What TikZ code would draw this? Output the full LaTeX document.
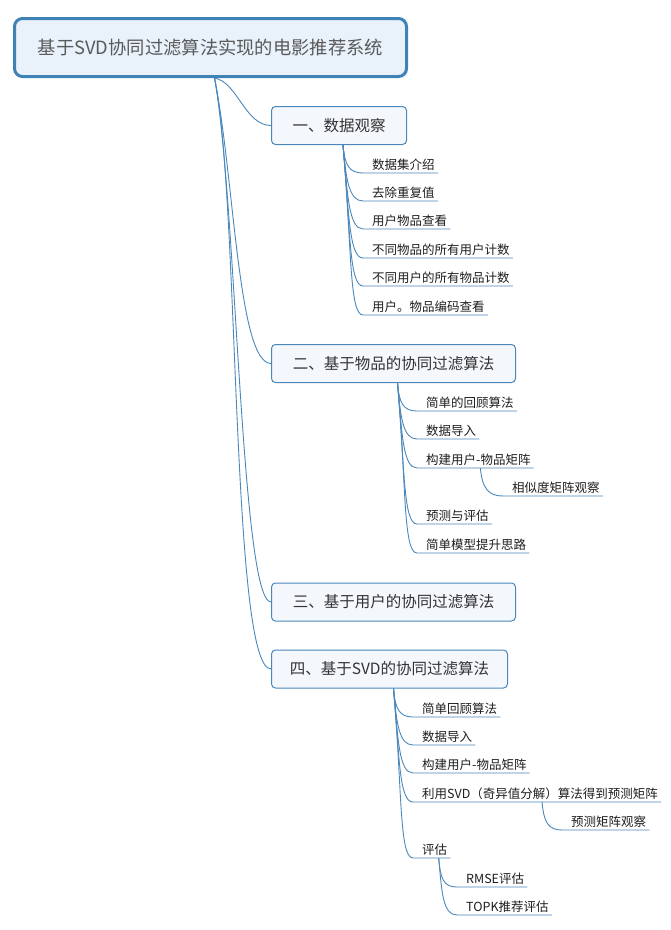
\documentclass[tikz,border=0pt]{standalone}
\usepackage{fontspec}
\setmainfont{Noto Sans CJK SC}
\usetikzlibrary{positioning}
\definecolor{mmLine}{HTML}{4A87BA}
\definecolor{mmRootDraw}{HTML}{3E82B6}
\definecolor{mmRootFill}{HTML}{E9F1FB}
\definecolor{mmRootText}{HTML}{5A5A5A}
\definecolor{mmTopicFill}{HTML}{F4F8FD}
\definecolor{mmTopicText}{HTML}{333333}
\definecolor{mmLeafText}{HTML}{1E1E1E}
\tikzset{
    mmRoot/.style={
        rectangle,
        draw=mmRootDraw,
        line width=3pt,
        rounded corners=8pt,
        fill=mmRootFill,
        minimum width=392pt,
        minimum height=58pt,
        text=mmRootText,
        font=\fontsize{18.3}{22}\selectfont
    },
    mmTopic/.style={
        rectangle,
        draw=mmLine,
        line width=1pt,
        rounded corners=4pt,
        fill=mmTopicFill,
        minimum height=38pt,
        inner xsep=21pt,
        anchor=west,
        text=mmTopicText,
        font=\fontsize{15.5}{19}\selectfont
    },
    mmLeaf/.style={
        anchor=south west,
        inner xsep=0pt,
        inner ysep=2.5pt,
        text=mmLeafText,
        font=\fontsize{12.5}{15}\selectfont
    },
    % Connectors
    mmEdge/.style={draw=mmLine, line width=0.9pt},
    mmTwig/.style={out=-85, in=180, out looseness=1.5, in distance=14pt}
}

\begin{document}
\begin{tikzpicture}[x=1pt, y=-1pt]
\useasboundingbox (0,0) rectangle (671,930);

\node[mmRoot] (root) at (210.5,47.5) {基于SVD协同过滤算法实现的电影推荐系统};

\node[mmTopic, minimum width=135pt] (obs) at (271,125.5) {一、数据观察};
\node[mmTopic, minimum width=244pt] (item) at (271,363.5) {二、基于物品的协同过滤算法};
\node[mmTopic, minimum width=244pt] (user) at (271,602) {三、基于用户的协同过滤算法};
\node[mmTopic, minimum width=236pt, inner xsep=17pt] (svd) at (271,669) {四、基于SVD的协同过滤算法};

% root to topics
\draw[mmEdge] ([xshift=4pt]root.south) .. controls +(23,4) and +(-26,0) .. (obs.west);
\draw[mmEdge] ([xshift=4pt]root.south) .. controls +(20,100) and +(-33,0) .. (item.west);
\draw[mmEdge] ([xshift=4pt]root.south) .. controls +(22,120) and +(-30,0) .. (user.west);
\draw[mmEdge] ([xshift=4pt]root.south) .. controls +(25,120) and +(-40,0) .. (svd.west);

% 一
\node[mmLeaf] (o1) at (372,173) {数据集介绍};
\node[mmLeaf] (o2) at (372,201) {去除重复值};
\node[mmLeaf] (o3) at (372,229) {用户物品查看};
\node[mmLeaf] (o4) at (372,258) {不同物品的所有用户计数};
\node[mmLeaf] (o5) at (372,286) {不同用户的所有物品计数};
\node[mmLeaf] (o6) at (372,315) {用户。物品编码查看};
\draw[mmEdge] ([xshift=4pt]obs.south) to[mmTwig] ([xshift=-9pt]o1.south west) -- ([xshift=3pt]o1.south east);
\draw[mmEdge] ([xshift=4pt]obs.south) to[mmTwig] ([xshift=-9pt]o2.south west) -- ([xshift=3pt]o2.south east);
\draw[mmEdge] ([xshift=4pt]obs.south) to[mmTwig] ([xshift=-9pt]o3.south west) -- ([xshift=3pt]o3.south east);
\draw[mmEdge] ([xshift=4pt]obs.south) to[mmTwig] ([xshift=-9pt]o4.south west) -- ([xshift=3pt]o4.south east);
\draw[mmEdge] ([xshift=4pt]obs.south) to[mmTwig] ([xshift=-9pt]o5.south west) -- ([xshift=3pt]o5.south east);
\draw[mmEdge] ([xshift=4pt]obs.south) to[mmTwig] ([xshift=-9pt]o6.south west) -- ([xshift=3pt]o6.south east);

% 二
\node[mmLeaf] (i1) at (426,411) {简单的回顾算法};
\node[mmLeaf] (i2) at (426,439) {数据导入};
\node[mmLeaf] (i3) at (426,468) {构建用户-物品矩阵};
\node[mmLeaf] (i3a) at (512,496) {相似度矩阵观察};
\node[mmLeaf] (i4) at (426,524) {预测与评估};
\node[mmLeaf] (i5) at (426,553) {简单模型提升思路};
\draw[mmEdge] ([xshift=4pt]item.south) to[mmTwig] ([xshift=-9pt]i1.south west) -- ([xshift=3pt]i1.south east);
\draw[mmEdge] ([xshift=4pt]item.south) to[mmTwig] ([xshift=-9pt]i2.south west) -- ([xshift=3pt]i2.south east);
\draw[mmEdge] ([xshift=4pt]item.south) to[mmTwig] ([xshift=-9pt]i3.south west) -- ([xshift=3pt]i3.south east);
\draw[mmEdge] ([xshift=2pt]i3.south) to[mmTwig] ([xshift=-9pt]i3a.south west) -- ([xshift=3pt]i3a.south east);
\draw[mmEdge] ([xshift=4pt]item.south) to[mmTwig] ([xshift=-9pt]i4.south west) -- ([xshift=3pt]i4.south east);
\draw[mmEdge] ([xshift=4pt]item.south) to[mmTwig] ([xshift=-9pt]i5.south west) -- ([xshift=3pt]i5.south east);

% 四
\node[mmLeaf] (s1) at (422,717) {简单回顾算法};
\node[mmLeaf] (s2) at (422,745) {数据导入};
\node[mmLeaf] (s3) at (422,773) {构建用户-物品矩阵};
\node[mmLeaf] (s4) at (422,802) {利用SVD（奇异值分解）算法得到预测矩阵};
\node[mmLeaf] (s4a) at (571,830) {预测矩阵观察};
\node[mmLeaf] (s5) at (422,858) {评估};
\node[mmLeaf] (s5a) at (466,887) {RMSE评估};
\node[mmLeaf] (s5b) at (466,915) {TOPK推荐评估};
\draw[mmEdge] ([xshift=4pt]svd.south) to[mmTwig] ([xshift=-9pt]s1.south west) -- ([xshift=3pt]s1.south east);
\draw[mmEdge] ([xshift=4pt]svd.south) to[mmTwig] ([xshift=-9pt]s2.south west) -- ([xshift=3pt]s2.south east);
\draw[mmEdge] ([xshift=4pt]svd.south) to[mmTwig] ([xshift=-9pt]s3.south west) -- ([xshift=3pt]s3.south east);
\draw[mmEdge] ([xshift=4pt]svd.south) to[mmTwig] ([xshift=-9pt]s4.south west) -- ([xshift=3pt]s4.south east);
\draw[mmEdge] ([xshift=2pt]s4.south) to[mmTwig] ([xshift=-9pt]s4a.south west) -- ([xshift=3pt]s4a.south east);
\draw[mmEdge] ([xshift=4pt]svd.south) to[mmTwig] ([xshift=-9pt]s5.south west) -- ([xshift=3pt]s5.south east);
\draw[mmEdge] ([xshift=4pt]s5.south) to[mmTwig] ([xshift=-9pt]s5a.south west) -- ([xshift=3pt]s5a.south east);
\draw[mmEdge] ([xshift=4pt]s5.south) to[mmTwig] ([xshift=-9pt]s5b.south west) -- ([xshift=3pt]s5b.south east);
\end{tikzpicture}
\end{document}
